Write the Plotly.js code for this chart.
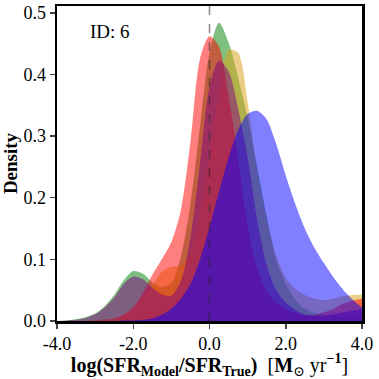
<!DOCTYPE html>
<html>
<head>
<meta charset="utf-8">
<script src="https://cdn.plot.ly/plotly-3.0.1.min.js"></script>
<style>
  html, body { margin: 0; padding: 0; background: #fff; }
  #grafico { width: 379px; height: 379px; }
</style>
</head>
<body>
<div id="grafico"></div>
<script>
// eje x comun (log SFR_model / SFR_true)
let logRatio = [-4, -3.75, -3.5, -3.25, -3, -2.75, -2.5, -2.25, -2, -1.75, -1.5, -1.25, -1, -0.75, -0.5, -0.25,
                0, 0.25, 0.5, 0.75, 1, 1.25, 1.5, 1.75, 2, 2.25, 2.5, 2.75, 3, 3.25, 3.5, 3.75, 4];

// densidades
let densVerde = [0.000, 0.001, 0.003, 0.006, 0.012, 0.024, 0.042, 0.066, 0.081, 0.077, 0.063, 0.055, 0.062, 0.105, 0.190, 0.315,
                 0.435, 0.484, 0.452, 0.395, 0.330, 0.250, 0.170, 0.100, 0.060, 0.035, 0.020, 0.013, 0.010, 0.009, 0.008, 0.008, 0.008];
let densOro   = [0.000, 0.000, 0.000, 0.000, 0.001, 0.002, 0.004, 0.010, 0.022, 0.040, 0.058, 0.080, 0.088, 0.090, 0.112, 0.175,
                 0.270, 0.370, 0.440, 0.435, 0.355, 0.245, 0.165, 0.105, 0.070, 0.052, 0.042, 0.036, 0.034, 0.036, 0.040, 0.042, 0.043];
let densRojo  = [0.000, 0.000, 0.000, 0.000, 0.001, 0.002, 0.004, 0.010, 0.022, 0.045, 0.075, 0.100, 0.128, 0.180, 0.290, 0.425,
                 0.462, 0.445, 0.365, 0.265, 0.155, 0.085, 0.048, 0.030, 0.020, 0.013, 0.010, 0.010, 0.014, 0.020, 0.028, 0.033, 0.036];
let densMorado = [0.000, 0.001, 0.002, 0.005, 0.011, 0.022, 0.038, 0.060, 0.072, 0.068, 0.054, 0.043, 0.041, 0.065, 0.135, 0.255,
                  0.380, 0.422, 0.405, 0.345, 0.265, 0.165, 0.090, 0.050, 0.030, 0.018, 0.010, 0.008, 0.009, 0.011, 0.014, 0.017, 0.020];
let densAzul  = [0.000, 0.000, 0.000, 0.000, 0.000, 0.000, 0.000, 0.001, 0.001, 0.002, 0.004, 0.010, 0.020, 0.036, 0.060, 0.100,
                 0.152, 0.210, 0.265, 0.310, 0.336, 0.341, 0.327, 0.287, 0.236, 0.190, 0.150, 0.119, 0.094, 0.071, 0.051, 0.035, 0.022];

let colores = ['rgba(0,128,0,0.5)', 'rgba(218,165,32,0.55)', 'rgba(255,0,0,0.5)', 'rgba(128,0,128,0.5)', 'rgba(0,0,255,0.5)'];
let series = [densVerde, densOro, densRojo, densMorado, densAzul];

let referencia = [0];

let trazas = [];
for (let i = 0; i < series.length; i++)
{
    trazas.push({
        x: logRatio,
        y: series[i],
        type: 'scatter',
        mode: 'lines',
        line: {width: 0, shape: 'spline', smoothing: 0.8},
        fill: 'tozeroy',
        fillcolor: colores[i],
        hoverinfo: 'skip',
        showlegend: false
    });
}

let fuente = 'Liberation Serif, DejaVu Serif, serif';

let layout =
{
    width: 379,
    height: 379,
    margin: {l: 57, r: 17, t: 6, b: 58},
    paper_bgcolor: '#fff',
    plot_bgcolor: '#fff',
    font: {family: fuente, size: 16, color: '#000'},
    showlegend: false,
    xaxis: {
        range: [-4, 4],
        tickvals: [-4, -2, 0, 2, 4],
        ticktext: ['-4.0', '-2.0', '0.0', '2.0', '4.0'],
        ticks: 'outside',
        ticklen: 5,
        tickwidth: 1.5,
        showgrid: false,
        zeroline: false,
        showline: true,
        mirror: true,
        linewidth: 2.5,
        linecolor: '#000',
        tickfont: {family: fuente, size: 18},
        title: {
            text: '<b>log(SFR<sub>Model</sub>/SFR<sub>True</sub>)</b>  [<b>M</b><sub>⊙</sub> yr<sup><b>−1</b></sup>]',
            font: {family: fuente, size: 20},
            standoff: 0
        }
    },
    yaxis: {
        range: [0, 0.511],
        tickvals: [0, 0.1, 0.2, 0.3, 0.4, 0.5],
        ticktext: ['0.0', '0.1', '0.2', '0.3', '0.4', '0.5'],
        ticks: 'outside',
        ticklen: 5,
        tickwidth: 1.5,
        showgrid: false,
        zeroline: false,
        showline: true,
        mirror: true,
        linewidth: 2.5,
        linecolor: '#000',
        tickfont: {family: fuente, size: 18},
        title: {
            text: '<b>Density</b>',
            font: {family: fuente, size: 19},
            standoff: 3
        }
    },
    shapes: referencia.map(v => ({
        type: 'line', xref: 'x', yref: 'paper',
        x0: v, x1: v, y0: 0, y1: 1,
        layer: 'above',
        line: {color: 'rgba(40,40,40,0.55)', width: 1.5, dash: 'dash'}
    })),
    annotations: [{
        text: 'ID: 6',
        xref: 'paper', yref: 'paper',
        x: 0.1, y: 0.92,
        xanchor: 'left', yanchor: 'middle',
        showarrow: false,
        font: {family: fuente, size: 19}
    }]
};

let contenedor = document.getElementById('grafico');
Plotly.newPlot(contenedor, trazas, layout, {staticPlot: true});
</script>
</body>
</html>
